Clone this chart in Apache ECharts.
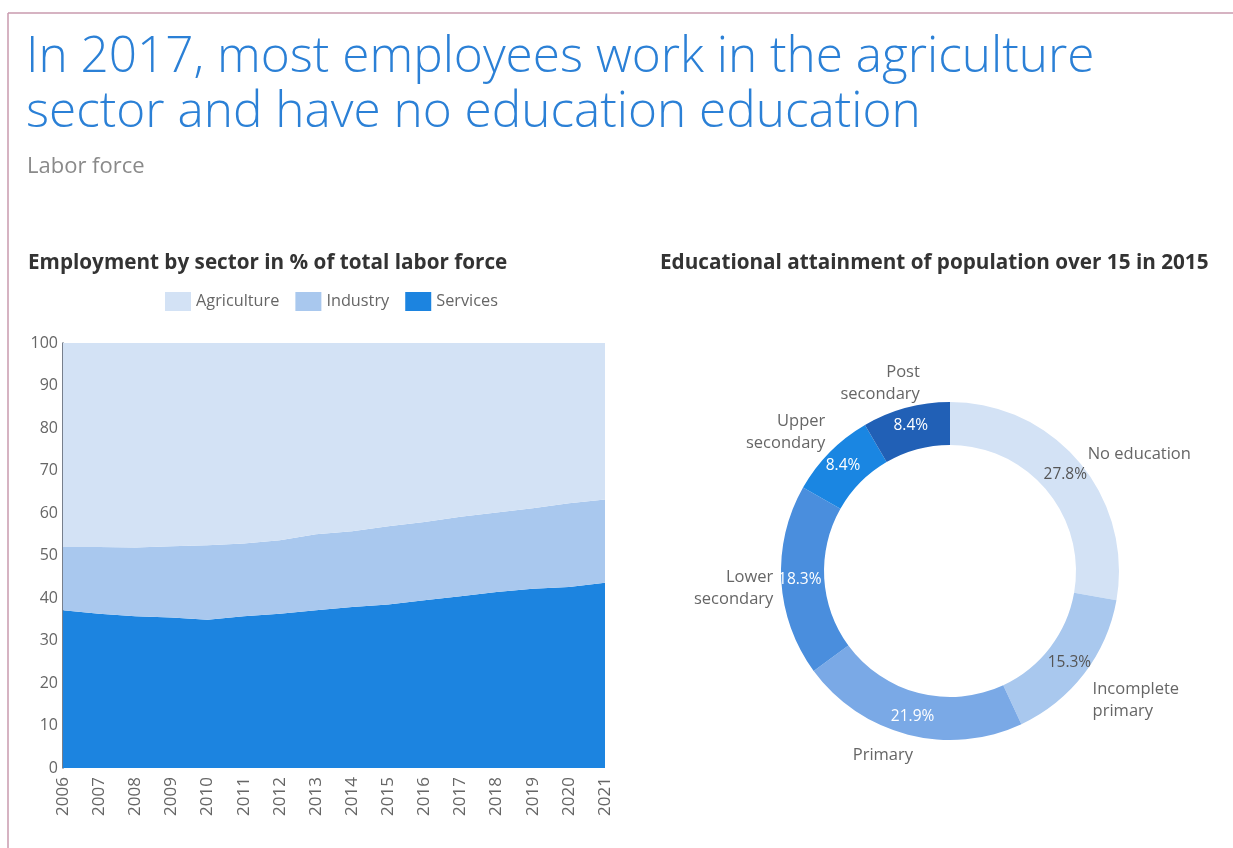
<!DOCTYPE html>
<html>
<head>
<meta charset="utf-8">
<script src="https://cdn.jsdelivr.net/npm/echarts@6/dist/echarts.min.js"></script>
<style>
html,body{margin:0;padding:0;background:#fff;}
#main{width:1233px;height:848px;}
</style>
</head>
<body>
<div id="main"></div>
<script>
// ---- data ----
const years = ['2006','2007','2008','2009','2010','2011','2012','2013','2014','2015','2016','2017','2018','2019','2020','2021'];
const services    = [37.1, 36.3, 35.7, 35.4, 34.9, 35.7, 36.3, 37.1, 37.9, 38.5, 39.5, 40.4, 41.4, 42.2, 42.6, 43.6];
const industry    = [14.9, 15.7, 16.2, 16.8, 17.5, 17.1, 17.3, 17.9, 17.8, 18.4, 18.4, 18.7, 18.7, 18.9, 19.7, 19.6];
const agriculture = [48.0, 48.0, 48.1, 47.8, 47.6, 47.2, 46.4, 45.0, 44.3, 43.1, 42.1, 40.9, 39.9, 38.9, 37.7, 36.8];
const yTicks = [0,10,20,30,40,50,60,70,80,90,100];

const eduNames  = ['No education','Incomplete\nprimary','Primary','Lower\nsecondary','Upper\nsecondary','Post\nsecondary'];
const eduValues = [27.8, 15.3, 21.9, 18.3, 8.4, 8.4];

// ---- styles ----
const FONT = '"Open Sans", "Noto Sans", sans-serif';
const areaColors = {Agriculture:'#d3e2f5', Industry:'#a9c8ee', Services:'#1c84e0'};
const eduColors = ['#d3e2f5','#a9c8ee','#7aa9e6','#4a8edd','#1a86e2','#2160b6'];
const eduLabelColors = ['#555','#555','#fff','#fff','#fff','#fff'];
// small label nudges (style only) for outer name labels: [dx, dy]
const nameNudge = [[-6,0],[-6,19],[13,9],[9,7],[9,-11],[22,-13]];

const chart = echarts.init(document.getElementById('main'));

function areaSeries(name, data){
  return {
    name, type:'line', stack:'total', data, symbol:'none', smooth:false,
    lineStyle:{width:0}, areaStyle:{color:areaColors[name], opacity:1},
    itemStyle:{color:areaColors[name]}, emphasis:{disabled:true}
  };
}

const pieData = eduNames.map((n,i)=>({name:n, value:eduValues[i], itemStyle:{color:eduColors[i]}, label:{color:eduLabelColors[i]}}));
const pieNameData = eduNames.map((n,i)=>({name:n, value:eduValues[i]}));

chart.setOption({
  animation:false,
  textStyle:{fontFamily:FONT},
  title:[
    {text:'In 2017, most employees work in the agriculture\nsector and have no education education', left:21, top:25,
     textStyle:{fontFamily:FONT, fontSize:49.5, fontWeight:300, color:'#2b80d6', lineHeight:55}},
    {text:'Labor force', left:22, top:151, textStyle:{fontFamily:FONT, fontSize:22, fontWeight:'normal', color:'#8a8a8a'}},
    {text:'Employment by sector in % of total labor force', left:23, top:248, textStyle:{fontFamily:FONT, fontSize:20.7, fontWeight:'bold', color:'#333'}},
    {text:'Educational attainment of population over 15 in 2015', left:655, top:248, textStyle:{fontFamily:FONT, fontSize:20.7, fontWeight:'bold', color:'#333'}}
  ],
  legend:{
    data:['Agriculture','Industry','Services'], left:160, top:287, itemWidth:26, itemHeight:19, itemGap:16,
    icon:'rect', textStyle:{fontFamily:FONT, fontSize:16.3, color:'#666'}
  },
  grid:{left:63, right:628, top:343, bottom:80},
  xAxis:{
    type:'category', data:years, boundaryGap:false,
    axisLine:{show:false}, axisTick:{show:false},
    axisLabel:{rotate:90, fontFamily:FONT, fontSize:17, color:'#666', margin:9, interval:0}
  },
  yAxis:{
    type:'value', min:0, max:100, interval:10,
    axisLine:{show:true, lineStyle:{color:'#4a5566', width:1.5}}, axisTick:{show:false},
    splitLine:{show:false},
    axisLabel:{fontFamily:FONT, fontSize:16, color:'#666', margin:5,
      formatter:v=>yTicks.includes(v)?String(v):''}
  },
  series:[
    areaSeries('Services', services),
    areaSeries('Industry', industry),
    areaSeries('Agriculture', agriculture),
    {
      type:'pie', center:[950,571], radius:[126,169], startAngle:90, clockwise:true,
      data:pieData, silent:true,
      label:{show:true, position:'inside', formatter:p=>p.value.toFixed(1)+'%', fontFamily:FONT, fontSize:15.5},
      labelLine:{show:false}
    },
    {
      type:'pie', center:[950,571], radius:[126,169], startAngle:90, clockwise:true,
      data:pieNameData, silent:true,
      itemStyle:{color:'rgba(0,0,0,0)'},
      label:{show:true, position:'outside', formatter:'{b}', fontFamily:FONT, fontSize:16.5, color:'#666', lineHeight:22},
      labelLine:{show:false, length:12, length2:0},
      labelLayout:p=>({dx:nameNudge[p.dataIndex][0], dy:nameNudge[p.dataIndex][1]})
    }
  ],
  graphic:[
    {type:'line', shape:{x1:8, y1:13, x2:1233, y2:13}, style:{stroke:'#c99aae', lineWidth:1.5}},
    {type:'line', shape:{x1:8, y1:13, x2:8, y2:848}, style:{stroke:'#c99aae', lineWidth:1.5}}
  ]
});
</script>
</body>
</html>
